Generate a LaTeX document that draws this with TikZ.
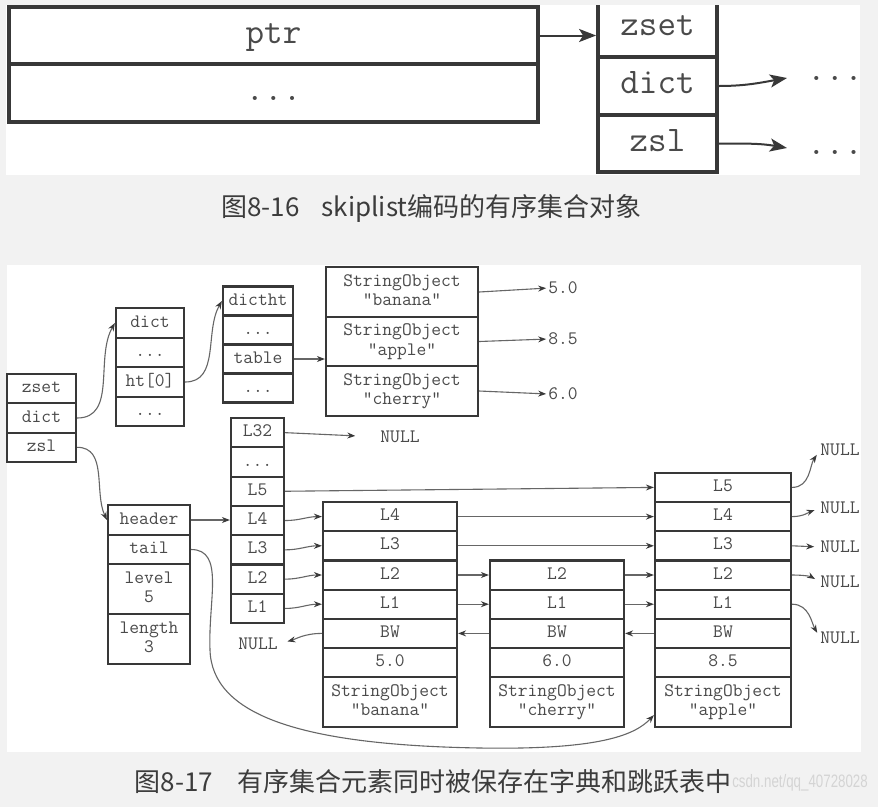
\documentclass[tikz,border=0pt]{standalone}
\usepackage{fontspec}
\usepackage{graphicx}
\newfontfamily\cjkfont{Noto Sans CJK SC}
\newfontfamily\wmfont{Liberation Sans}
\usetikzlibrary{arrows.meta}
\definecolor{bgc}{HTML}{F2F2F2}
\definecolor{boxline}{HTML}{383838}
\definecolor{txt}{HTML}{4A4A4A}
\definecolor{arrc}{HTML}{666666}
\definecolor{tipc}{HTML}{3A3A3A}
\definecolor{capc}{HTML}{3C3C3C}
\definecolor{wmc}{HTML}{D4D4D4}
\newcommand\tl[2]{\rule[-5.65pt]{0pt}{19.5pt}#1\\\rule[-5.65pt]{0pt}{19.5pt}#2}
\begin{document}
\begin{tikzpicture}[x=1pt,y=1pt,
  bigcell/.style={draw=boxline, line width=3.8pt, fill=white, text=txt,
    font=\fontsize{36}{40}\selectfont\ttfamily, inner sep=0pt,
    text height=27pt, text depth=11.5pt},
  bigtext/.style={text=txt, font=\fontsize{36}{40}\selectfont\ttfamily, inner sep=0pt},
  cell/.style={draw=boxline, line width=2.2pt, fill=white, text=txt,
    font=\fontsize{19}{19.5}\selectfont\ttfamily, inner sep=0pt,
    text height=13.85pt, text depth=5.65pt},
  wcell/.style={draw=boxline, line width=2.2pt, fill=white, text=txt,
    font=\fontsize{19}{19.5}\selectfont\ttfamily, inner sep=0pt, align=center},
  lbl/.style={text=txt, font=\fontsize{19}{19.5}\selectfont\ttfamily, inner sep=0pt},
  bigarrow/.style={draw=boxline, line width=2pt, -{Stealth[length=17pt,width=13pt,inset=4pt]}},
  ar/.style={draw=arrc, line width=1.1pt, -{Stealth[length=8pt,width=6pt,color=tipc]}},
  capt/.style={text=capc, font=\cjkfont\fontsize{26}{30}\selectfont, inner sep=0pt},
  colA/.style={cell, minimum width=69pt, minimum height=29.3pt},
  colB/.style={cell, minimum width=68pt, minimum height=29.5pt},
  colC/.style={cell, minimum width=70pt, minimum height=29pt},
  colH/.style={cell, minimum width=82pt},
  colL/.style={cell, minimum width=53pt, minimum height=29.3pt},
  colN/.style={cell, minimum width=134pt, minimum height=29.2pt},
  colP/.style={cell, minimum width=136pt, minimum height=29.2pt}
]
\fill[bgc] (0,0) rectangle (878,-807);
\useasboundingbox (0,0) rectangle (878,-807);
\fill[white] (6,-5) rectangle (860,-175);
\fill[white] (7,-265) rectangle (861,-752);

% ---------- figure 8-16 ----------
\node[bigcell, minimum width=529pt, minimum height=57pt] (ptr) at (273.5,-35.5) {ptr};
\node[bigcell, minimum width=529pt, minimum height=58pt] (pmore) at (273.5,-93) {...};
\begin{scope}
  \clip (580,-5) rectangle (740,-120);
  \node[bigcell, minimum width=119pt, minimum height=58pt] (zset) at (657.5,-28) {zset};
\end{scope}
\node[bigcell, minimum width=119pt, minimum height=58pt] (zdict) at (657.5,-86) {dict};
\node[bigcell, minimum width=119pt, minimum height=57pt] (zzsl) at (657.5,-143.5) {zsl};
\node[bigtext, anchor=base] (dmore) at (835,-80) {...};
\node[bigtext, anchor=base] (smore) at (835,-154) {...};
\coordinate (dtip) at (787,-78);
\coordinate (stip) at (787,-148);
\draw[bigarrow] (ptr.east) -- (ptr.east -| zset.west);
\draw[bigarrow] (zdict.east) to[out=0,in=190] (dtip);
\draw[bigarrow] (zzsl.east) to[out=0,in=170] (stip);

\node[capt] (cap1) at (431.5,-208) {图8-16\hspace{22pt}skiplist编码的有序集合对象};

% ---------- figure 8-17 ----------
% zset
\node[colA] (a1) at (41.5,-388.7) {zset};
\node[colA] (a2) at (41.5,-418) {dict};
\node[colA] (a3) at (41.5,-447.3) {zsl};
% dict
\node[colB] (b1) at (150,-323) {dict};
\node[colB] (b2) at (150,-352.5) {...};
\node[colB] (b3) at (150,-382) {ht[0]};
\node[colB] (b4) at (150,-411.5) {...};
% dictht
\node[colC] (c1) at (258,-301) {dictht};
\node[colC] (c2) at (258,-330) {...};
\node[colC] (c3) at (258,-359) {table};
\node[colC] (c4) at (258,-388) {...};
% dict entries
\node[wcell, minimum width=152pt, minimum height=49.5pt] (s1) at (402,-292) {\tl{StringObject}{"banana"}};
\node[wcell, minimum width=152pt, minimum height=49.5pt] (s2) at (402,-341.5) {\tl{StringObject}{"apple"}};
\node[wcell, minimum width=152pt, minimum height=49.5pt] (s3) at (402,-391) {\tl{StringObject}{"cherry"}};
\node[lbl] (v1) at (563,-288) {5.0};
\node[lbl] (v2) at (563,-339) {8.5};
\node[lbl] (v3) at (563,-394) {6.0};
% zskiplist
\node[colH, minimum height=30pt] (h1) at (149,-520) {header};
\node[colH, minimum height=29pt] (h2) at (149,-549.5) {tail};
\node[wcell, minimum width=82pt, minimum height=50pt] (h3) at (149,-589) {\tl{level}{5}};
\node[wcell, minimum width=82pt, minimum height=50pt] (h4) at (149,-639) {\tl{length}{3}};
% header levels
\node[colL] (l32) at (257.5,-432.65) {L32};
\node[colL] (ld) at (257.5,-461.95) {...};
\node[colL] (l5) at (257.5,-491.25) {L5};
\node[colL] (l4) at (257.5,-520.55) {L4};
\node[colL] (l3) at (257.5,-549.85) {L3};
\node[colL] (l2) at (257.5,-579.15) {L2};
\node[colL] (l1) at (257.5,-608.45) {L1};
\node[lbl] (nl32) at (400,-437) {NULL};
\node[lbl] (nleft) at (258,-644) {NULL};
% banana node
\node[colN] (bL4) at (390,-516.6) {L4};
\node[colN] (bL3) at (390,-545.8) {L3};
\node[colN] (bL2) at (390,-575) {L2};
\node[colN] (bL1) at (390,-604.2) {L1};
\node[colN] (bBW) at (390,-633.4) {BW};
\node[colN] (bV) at (390,-662.6) {5.0};
\node[wcell, minimum width=134pt, minimum height=49.8pt] (bSO) at (390,-702.1) {\tl{StringObject}{"banana"}};
% cherry node
\node[colN] (cL2) at (557,-575) {L2};
\node[colN] (cL1) at (557,-604.2) {L1};
\node[colN] (cBW) at (557,-633.4) {BW};
\node[colN] (cV) at (557,-662.6) {6.0};
\node[wcell, minimum width=134pt, minimum height=49.8pt] (cSO) at (557,-702.1) {\tl{StringObject}{"cherry"}};
% apple node
\node[colP] (aL5) at (723,-487.4) {L5};
\node[colP] (aL4) at (723,-516.6) {L4};
\node[colP] (aL3) at (723,-545.8) {L3};
\node[colP] (aL2) at (723,-575) {L2};
\node[colP] (aL1) at (723,-604.2) {L1};
\node[colP] (aBW) at (723,-633.4) {BW};
\node[colP] (aV) at (723,-662.6) {8.5};
\node[wcell, minimum width=136pt, minimum height=49.8pt] (aSO) at (723,-702.1) {\tl{StringObject}{"apple"}};
% right NULLs
\node[lbl] (n1) at (840,-450) {NULL};
\node[lbl] (n2) at (840,-508) {NULL};
\node[lbl] (n3) at (840,-547) {NULL};
\node[lbl] (n4) at (840,-582) {NULL};
\node[lbl] (n5) at (840,-638) {NULL};

% connectors
\draw[ar] (a2.east) to[out=0,in=240] (b1.west);
\draw[ar] (b3.east) to[out=0,in=240] (c1.west);
\draw[ar] (c3.east) -- (c3.east -| s2.west);
\draw[ar, shorten >=2pt] (s1.east) -- (v1.west);
\draw[ar, shorten >=2pt] (s2.east) -- (v2.west);
\draw[ar, shorten >=2pt] (s3.east) -- (v3.west);
\draw[ar] (a3.east) to[out=0,in=115] (h1.west);
\draw[ar] (h1.east) -- (h1.east -| l4.west);
\draw[ar, shorten >=25pt] (l32.east) -- (nl32.west);
\draw[ar] (l5.east) -- (aL5.west);
\draw[ar] (l4.east) to[out=0,in=180] (bL4.west);
\draw[ar] (l3.east) to[out=0,in=180] (bL3.west);
\draw[ar] (l2.east) to[out=0,in=180] (bL2.west);
\draw[ar] (l1.east) to[out=0,in=180] (bL1.west);
\draw[ar] (bL4.east) -- (aL4.west);
\draw[ar] (bL3.east) -- (aL3.west);
\draw[ar] (bL2.east) -- (cL2.west);
\draw[ar] (bL1.east) -- (cL1.west);
\draw[ar] (cL2.east) -- (aL2.west);
\draw[ar] (cL1.east) -- (aL1.west);
\draw[ar] (cBW.west) -- (bBW.east);
\draw[ar] (aBW.west) -- (cBW.east);
\draw[ar, shorten >=10pt] (bBW.west) to[out=180,in=15] (nleft.east);
\draw[ar, shorten >=6pt] (aL5.east) to[out=0,in=235] (n1.west);
\draw[ar, shorten >=6pt] (aL4.east) to[out=0,in=200] (n2.west);
\draw[ar, shorten >=6pt] (aL3.east) -- (n3.west);
\draw[ar, shorten >=6pt] (aL2.east) to[out=0,in=150] (n4.west);
\draw[ar, shorten >=6pt] (aL1.east) to[out=0,in=120] (n5.west);
\draw[ar] (h2.east) .. controls (225,-549.5) and (208,-600) .. (210,-650)
  .. controls (212,-715) and (300,-745) .. (480,-748)
  .. controls (600,-750) and (635,-735) .. ([yshift=-13pt]aSO.west);

% caption and watermark
\node[capt] (cap2) at (433,-782) {图8-17\hspace{24pt}有序集合元素同时被保存在字典和跳跃表中};
\node[anchor=east, text=wmc, font=\wmfont\fontsize{18}{20}\selectfont, inner sep=0pt] (wm) at (868,-783)
  {\scalebox{0.74}[1]{csdn.net/qq\_40728028}};
\end{tikzpicture}
\end{document}
